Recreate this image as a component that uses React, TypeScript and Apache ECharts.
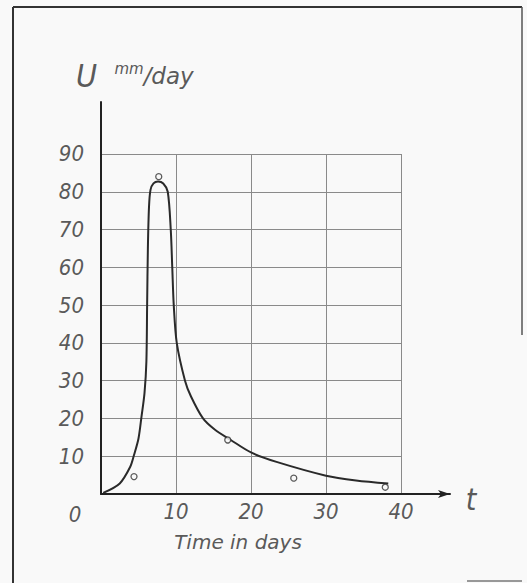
import React, { useEffect, useRef } from "react";
import * as echarts from "echarts";

// tick labels
const xTickLabels = [10, 20, 30, 40];
const yTickLabels = [10, 20, 30, 40, 50, 60, 70, 80, 90];

// fitted curve U(t)
const curveT = [0.3, 2.5, 3.9, 4.4, 5.0, 5.4, 5.8, 6.05, 6.15, 6.25, 6.4, 6.6, 7.0, 7.6, 8.3, 8.9, 9.3, 9.5, 9.7, 10.1, 11.2, 12.0, 13.6, 15.2, 17.3, 20, 23.4, 30, 34, 38.3];
const curveU = [0.3, 2.8, 7.2, 10.3, 14.7, 20.5, 26.7, 35, 50, 65, 76, 80.5, 82.2, 82.7, 82.2, 80, 70, 60, 50, 40, 30, 25.8, 20, 17, 14.3, 11, 8.5, 4.85, 3.6, 2.8];

// observed points
const obsT = [4.4, 7.7, 16.9, 25.7, 37.9];
const obsU = [4.6, 84, 14.3, 4.2, 1.8];

const LABEL_FONT = "'DejaVu Sans Condensed', 'DejaVu Sans', sans-serif";
const LABEL_COLOR = "#5a5a5a";

export default function App() {
  const ref = useRef<HTMLDivElement>(null);
  useEffect(() => {
    if (!ref.current) return;
    const chart = echarts.init(ref.current, undefined, { renderer: "svg" });
    const curve = curveT.map((t, i) => [t, curveU[i]]);
    const obs = obsT.map((t, i) => [t, obsU[i]]);
    chart.setOption({
      animation: false,
      backgroundColor: "#f9f9f9",
      grid: [
        { left: 101, top: 102, width: 349, height: 392 },
        { left: 101, top: 154, width: 300, height: 340 },
      ],
      xAxis: [
        {
          type: "value",
          gridIndex: 0,
          min: 0,
          max: 46.53,
          interval: 10,
          axisLine: { show: true, lineStyle: { color: "#222", width: 2 }, symbol: ["none", "arrow"], symbolSize: [6, 12] },
          axisTick: { show: false },
          splitLine: { show: false },
          axisLabel: {
            margin: 6,
            fontSize: 22,
            fontStyle: "italic",
            fontFamily: LABEL_FONT,
            color: LABEL_COLOR,
            formatter: (v: number) => (xTickLabels.includes(v) ? String(v) : ""),
          },
        },
        {
          type: "value",
          gridIndex: 1,
          min: 0,
          max: 40,
          interval: 10,
          axisLine: { show: false },
          axisTick: { show: false },
          axisLabel: { show: false },
          splitLine: { show: true, lineStyle: { color: "#8a8a8a", width: 1 } },
        },
      ],
      yAxis: [
        {
          type: "value",
          gridIndex: 0,
          min: 0,
          max: 103.76,
          interval: 10,
          axisLine: { show: true, lineStyle: { color: "#222", width: 2 } },
          axisTick: { show: false },
          splitLine: { show: false },
          axisLabel: {
            margin: 17,
            fontSize: 22,
            fontStyle: "italic",
            fontFamily: LABEL_FONT,
            color: LABEL_COLOR,
            formatter: (v: number) => (yTickLabels.includes(v) ? String(v) : ""),
          },
        },
        {
          type: "value",
          gridIndex: 1,
          min: 0,
          max: 90,
          interval: 10,
          axisLine: { show: false },
          axisTick: { show: false },
          axisLabel: { show: false },
          splitLine: { show: true, lineStyle: { color: "#8a8a8a", width: 1 } },
        },
      ],
      series: [
        {
          type: "line",
          xAxisIndex: 0,
          yAxisIndex: 0,
          data: curve,
          smooth: 0.3,
          showSymbol: false,
          lineStyle: { color: "#2a2a2a", width: 2 },
          z: 3,
        },
        {
          type: "scatter",
          xAxisIndex: 0,
          yAxisIndex: 0,
          data: obs,
          symbol: "circle",
          symbolSize: 6,
          itemStyle: { color: "#f9f9f9", borderColor: "#333", borderWidth: 1.3 },
          z: 4,
        },
      ],
      graphic: [
        { type: "line", shape: { x1: 13, y1: 7, x2: 13, y2: 583 }, style: { stroke: "#333", lineWidth: 2 } },
        { type: "line", shape: { x1: 13, y1: 7, x2: 522, y2: 7 }, style: { stroke: "#333", lineWidth: 2 } },
        { type: "line", shape: { x1: 522, y1: 7, x2: 522, y2: 335 }, style: { stroke: "#555", lineWidth: 1.5 } },
        { type: "line", shape: { x1: 467, y1: 581, x2: 522, y2: 581 }, style: { stroke: "#777", lineWidth: 1.5 } },
        {
          type: "text",
          left: 76,
          top: 60,
          style: {
            text: "{u|U} {m|mm}{d|/day}",
            rich: {
              u: { fontSize: 32, fontStyle: "italic", fontFamily: LABEL_FONT, fill: LABEL_COLOR, verticalAlign: "bottom" },
              m: { fontSize: 15, fontStyle: "italic", fontFamily: "'DejaVu Sans', sans-serif", fill: LABEL_COLOR, padding: [0, 0, 14, 14] },
              d: { fontSize: 23, fontStyle: "italic", fontFamily: "'DejaVu Sans', sans-serif", fill: LABEL_COLOR },
            },
          },
        },
        {
          type: "text",
          x: 75,
          y: 514,
          style: { text: "0", fontSize: 22, fontStyle: "italic", fontFamily: LABEL_FONT, fill: LABEL_COLOR, align: "center", verticalAlign: "middle" },
        },
        {
          type: "text",
          x: 471,
          y: 499,
          style: { text: "t", fontSize: 30, fontStyle: "italic", fontFamily: LABEL_FONT, fill: LABEL_COLOR, align: "center", verticalAlign: "middle" },
        },
        {
          type: "text",
          x: 238,
          y: 542,
          style: { text: "Time in days", fontSize: 20, fontStyle: "italic", fontFamily: "'DejaVu Sans', sans-serif", fill: LABEL_COLOR, align: "center", verticalAlign: "middle" },
        },
      ],
    });
    return () => chart.dispose();
  }, []);
  return <div ref={ref} style={{ position: "fixed", left: 0, top: 0, width: 527, height: 583 }} />;
}
